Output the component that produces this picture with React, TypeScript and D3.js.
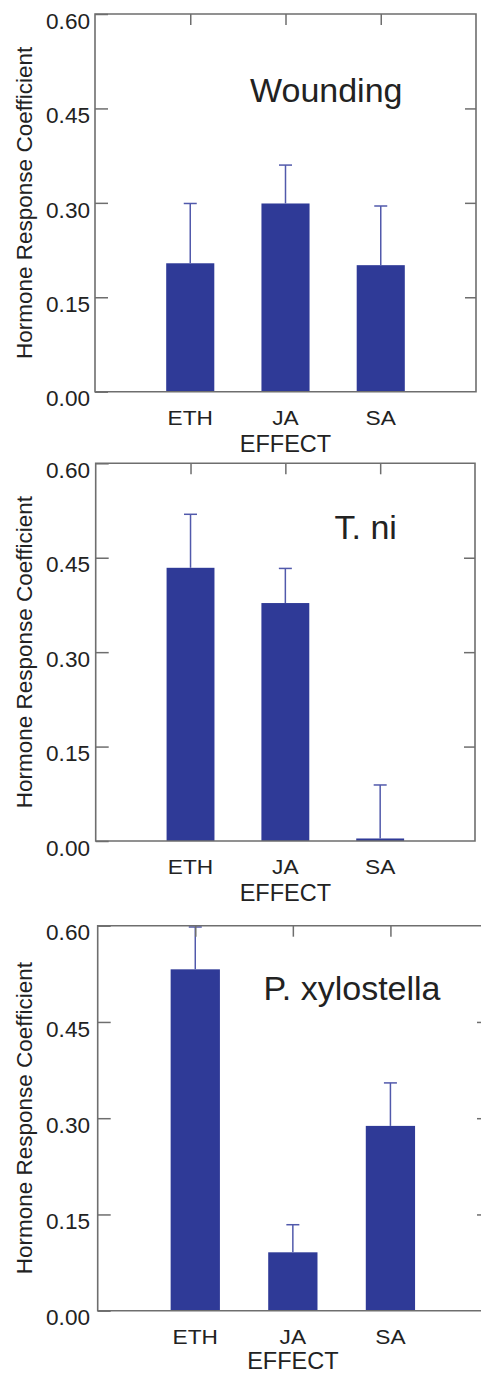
import React, { useEffect, useRef } from 'react';
import * as d3 from 'd3';

// data
const categories = ['ETH', 'JA', 'SA'];
const yTicks = [0, 0.15, 0.3, 0.45, 0.6];

const woundingMean = [0.204, 0.299, 0.201];
const woundingUpper = [0.299, 0.36, 0.295];
const tniMean = [0.434, 0.378, 0.004];
const tniUpper = [0.519, 0.433, 0.089];
const xyloMean = [0.532, 0.091, 0.288];
const xyloUpper = [0.598, 0.134, 0.355];

// look
const W = 481;
const H = 1374;
const FONT = '"Liberation Sans", Arial, Helvetica, sans-serif';
const BAR = '#2f3a97';
const ERR = '#5159ab';
const FRAME = '#6e6e6e';
const INK = '#222';

const panels = [
  {
    title: 'Wounding', mean: woundingMean, upper: woundingUpper,
    box: { l: 95, r: 476, t: 14, b: 391.7 }, titleX: 250, titleY: 101.5, effectDy: 60,
  },
  {
    title: 'T. ni', mean: tniMean, upper: tniUpper,
    box: { l: 95.7, r: 475, t: 463.3, b: 841 }, titleX: 334.5, titleY: 539.3, effectDy: 60,
  },
  {
    title: 'P. xylostella', mean: xyloMean, upper: xyloUpper,
    box: { l: 97.7, r: 488, t: 925.7, b: 1310.7 }, titleX: 263.5, titleY: 1000, effectDy: 58,
  },
];

// stretch text horizontally to match the (wide) lettering of the figure
function stretch(sel, k) {
  sel.each(function () {
    const len = this.getComputedTextLength();
    d3.select(this).attr('textLength', len * k).attr('lengthAdjust', 'spacingAndGlyphs');
  });
}

export default function App() {
  const node = useRef(null);

  useEffect(() => {
    const svg = d3.select(node.current);
    svg.selectAll('*').remove();

    panels.forEach((p) => {
      const { l, r, t, b } = p.box;
      const g = svg.append('g');

      const x = d3.scalePoint().domain(categories).range([l, r]).padding(1);
      const y = d3.scaleLinear().domain([0, 0.6]).range([b, t]);
      const bw = x.step() * 0.505;

      // bars
      g.selectAll('rect.bar')
        .data(categories)
        .enter()
        .append('rect')
        .attr('class', 'bar')
        .attr('x', (d) => x(d) - bw / 2)
        .attr('width', bw)
        .attr('y', (d, i) => y(p.mean[i]))
        .attr('height', (d, i) => b - y(p.mean[i]))
        .attr('fill', BAR);

      // error bars
      const err = g.selectAll('g.err').data(categories).enter().append('g').attr('class', 'err');
      err.append('line')
        .attr('x1', (d) => x(d)).attr('x2', (d) => x(d))
        .attr('y1', (d, i) => y(p.mean[i])).attr('y2', (d, i) => y(p.upper[i]))
        .attr('stroke', ERR).attr('stroke-width', 1.5);
      err.append('line')
        .attr('x1', (d) => x(d) - 6.5).attr('x2', (d) => x(d) + 6.5)
        .attr('y1', (d, i) => y(p.upper[i])).attr('y2', (d, i) => y(p.upper[i]))
        .attr('stroke', ERR).attr('stroke-width', 1.5);

      // axes (ticks inward)
      const left = g.append('g')
        .attr('transform', `translate(${l},0)`)
        .call(d3.axisLeft(y).tickValues(yTicks).tickSize(-13).tickSizeOuter(0)
          .tickPadding(l - 90).tickFormat(d3.format('.2f')));
      const right = g.append('g')
        .attr('transform', `translate(${r},0)`)
        .call(d3.axisRight(y).tickValues(yTicks.slice(1, -1)).tickSize(-11).tickSizeOuter(0)
          .tickFormat(() => ''));
      const top = g.append('g')
        .attr('transform', `translate(0,${t})`)
        .call(d3.axisTop(x).tickSize(-11).tickSizeOuter(0).tickFormat(() => ''));

      [left, right, top].forEach((a) => {
        a.select('.domain').remove();
        a.selectAll('line').attr('stroke', FRAME).attr('stroke-width', 1.5);
      });
      left.selectAll('text')
        .attr('font-family', FONT).attr('font-size', 21.5).attr('fill', INK)
        .attr('dy', '0.66em');
      stretch(left.selectAll('text'), 1.05);

      // frame
      g.append('path')
        .attr('d', `M${l},${t}H${r}V${b}H${l}Z`)
        .attr('fill', 'none').attr('stroke', FRAME).attr('stroke-width', 1.6);

      // category labels
      const cats = g.selectAll('text.cat')
        .data(categories)
        .enter()
        .append('text')
        .attr('class', 'cat')
        .attr('x', (d) => x(d))
        .attr('y', b + 33)
        .attr('text-anchor', 'middle')
        .attr('font-family', FONT).attr('font-size', 21).attr('fill', INK)
        .text((d) => d);
      stretch(cats, 1.08);

      g.append('text')
        .attr('x', x('JA'))
        .attr('y', b + p.effectDy)
        .attr('text-anchor', 'middle')
        .attr('font-family', FONT).attr('font-size', 23.5).attr('fill', INK)
        .text('EFFECT');

      // y label
      g.append('text')
        .attr('transform', `translate(32,${(t + b) / 2}) rotate(-90)`)
        .attr('text-anchor', 'middle')
        .attr('font-family', FONT).attr('font-size', 22.5).attr('fill', INK)
        .text('Hormone Response Coefficient');

      // title
      g.append('text')
        .attr('x', p.titleX)
        .attr('y', p.titleY)
        .attr('font-family', FONT).attr('font-size', 34).attr('fill', INK)
        .text(p.title);
    });
  }, []);

  return (
    <svg
      ref={node}
      width={W}
      height={H}
      style={{ position: 'absolute', left: 0, top: 0, background: '#fff' }}
    />
  );
}
